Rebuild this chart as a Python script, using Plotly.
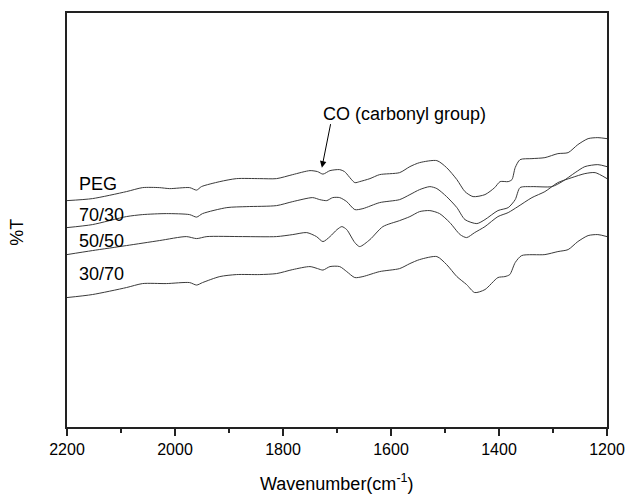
import plotly.graph_objects as go

# --- data (wavenumber in cm-1, transmittance in arbitrary units) ---
peg_x = [2200, 2153, 2090, 2060, 2029, 2010, 1973, 1960, 1951, 1917, 1886, 1843, 1812, 1782,
         1750, 1736, 1726, 1713, 1695, 1686, 1667, 1658, 1639, 1621, 1584, 1565, 1547, 1515,
         1497, 1478, 1463, 1448, 1426, 1408, 1398, 1383, 1376, 1370, 1361, 1339, 1315, 1291,
         1272, 1254, 1235, 1217, 1200]
peg_y = [227, 229, 236, 240, 240, 239, 240, 237.5, 241, 246, 249, 249, 249, 253,
         257, 256, 253.5, 257, 258, 256, 245, 246, 249, 253, 255, 261, 265, 267,
         260, 248, 236, 231, 233, 240, 246, 246, 248, 260, 268, 269, 270, 274,
         275, 283, 289, 290, 289]

s7030_x = [2200, 2153, 2090, 2060, 2016, 1973, 1960, 1949, 1904, 1867, 1812, 1782, 1745,
           1732, 1719, 1708, 1695, 1682, 1667, 1652, 1621, 1584, 1565, 1547, 1528, 1515,
           1497, 1478, 1463, 1441, 1426, 1402, 1383, 1370, 1361, 1339, 1302, 1283, 1259,
           1241, 1217, 1200]
s7030_y = [200, 203, 211, 213, 214, 213, 210.5, 214, 220, 221, 222, 226, 230,
           228, 227, 230, 230, 226, 218, 219, 225, 228, 233, 238, 241, 239,
           231, 220, 208, 204, 208, 217, 220, 228, 240, 241, 241, 246, 255,
           261, 263, 261]

s5050_x = [2200, 2153, 2090, 2029, 1979, 1960, 1941, 1875, 1812, 1782, 1756, 1738, 1726,
           1713, 1700, 1691, 1682, 1667, 1658, 1639, 1615, 1584, 1565, 1547, 1528, 1510,
           1491, 1472, 1460, 1445, 1426, 1402, 1383, 1365, 1339, 1315, 1291, 1265, 1241,
           1222, 1200]
s5050_y = [173, 177, 182, 187, 191, 189, 191, 191, 191, 193, 195, 191, 186,
           191, 198, 201, 198, 185, 181, 188, 201, 207, 211, 216, 217, 214,
           205, 193, 190, 195, 201, 211, 215, 221, 230, 236, 245, 250, 254,
           255, 249]

s3070_x = [2200, 2153, 2090, 2060, 2016, 1973, 1960, 1949, 1917, 1886, 1843, 1812, 1782,
           1750, 1736, 1726, 1713, 1695, 1682, 1667, 1652, 1621, 1584, 1565, 1547, 1515,
           1497, 1478, 1460, 1445, 1426, 1402, 1389, 1380, 1370, 1358, 1315, 1291, 1272,
           1254, 1235, 1217, 1200]
s3070_y = [130, 133, 140, 144, 144, 145, 142.5, 145, 151, 153, 153, 154, 158,
           161, 159, 157.5, 161, 161, 156, 150, 151, 156, 159, 164, 168, 171,
           163, 151, 143, 135, 138, 150, 151, 153, 165, 172, 173, 176, 178,
           186, 192, 193, 191]

series_names = ["PEG", "70/30", "50/50", "30/70"]
label_y = [243.5, 213, 187, 154]

xticks = [2200, 2000, 1800, 1600, 1400, 1200]
minor_ticks = [2100, 1900, 1700, 1500, 1300]

line_color = "#3a3a3a"
font_family = "Liberation Sans, Arial, sans-serif"

fig = go.Figure()
for xs, ys, nm in [(peg_x, peg_y, series_names[0]), (s7030_x, s7030_y, series_names[1]),
                   (s5050_x, s5050_y, series_names[2]), (s3070_x, s3070_y, series_names[3])]:
    fig.add_trace(go.Scatter(x=xs, y=ys, mode="lines", name=nm,
                             line=dict(color=line_color, width=1, shape="spline", smoothing=0.7),
                             showlegend=False, hoverinfo="skip"))

annotations = []
for nm, ly in zip(series_names, label_y):
    annotations.append(dict(x=2182, y=ly, xref="x", yref="y", text=nm, showarrow=False,
                            xanchor="left", yanchor="middle",
                            font=dict(size=18, color="black", family=font_family)))

annotations.append(dict(x=1729, y=313.5, xref="x", yref="y", text="CO (carbonyl group)",
                        showarrow=False, xanchor="left", yanchor="middle",
                        font=dict(size=18, color="black", family=font_family)))
annotations.append(dict(x=1728, y=260, xref="x", yref="y", text="", showarrow=True,
                        ax=9, ay=-45, arrowhead=2, arrowsize=1.3, arrowwidth=1,
                        arrowcolor="black"))
annotations.append(dict(x=0.5, y=-0.135, xref="paper", yref="paper",
                        text="Wavenumber(cm<sup>-1</sup>)", showarrow=False,
                        xanchor="center", yanchor="middle",
                        font=dict(size=18, color="black", family=font_family)))
annotations.append(dict(x=-0.092, y=0.47, xref="paper", yref="paper", text="%T",
                        showarrow=False, textangle=-90, xanchor="center", yanchor="middle",
                        font=dict(size=18, color="black", family=font_family)))

fig.update_layout(
    width=627, height=495,
    margin=dict(l=67, r=20, t=13, b=68, autoexpand=False),
    paper_bgcolor="white", plot_bgcolor="white",
    font=dict(family=font_family, color="black"),
    annotations=annotations,
    xaxis=dict(range=[2200, 1200], tickvals=xticks, ticktext=[str(v) for v in xticks],
               automargin=False,
               ticks="outside", ticklen=7, tickwidth=1.5, tickcolor="#222",
               minor=dict(tickvals=minor_ticks, ticks="outside",
                          ticklen=4, tickwidth=1.5, tickcolor="#222"),
               showline=True, linecolor="#222", linewidth=2, mirror=True,
               showgrid=False, zeroline=False,
               tickfont=dict(size=16, color="black", family=font_family)),
    yaxis=dict(range=[0.5, 414.7], showticklabels=False, ticks="", automargin=False,
               showline=True, linecolor="#222", linewidth=2, mirror=True,
               showgrid=False, zeroline=False),
)

fig.write_html("out.html")
